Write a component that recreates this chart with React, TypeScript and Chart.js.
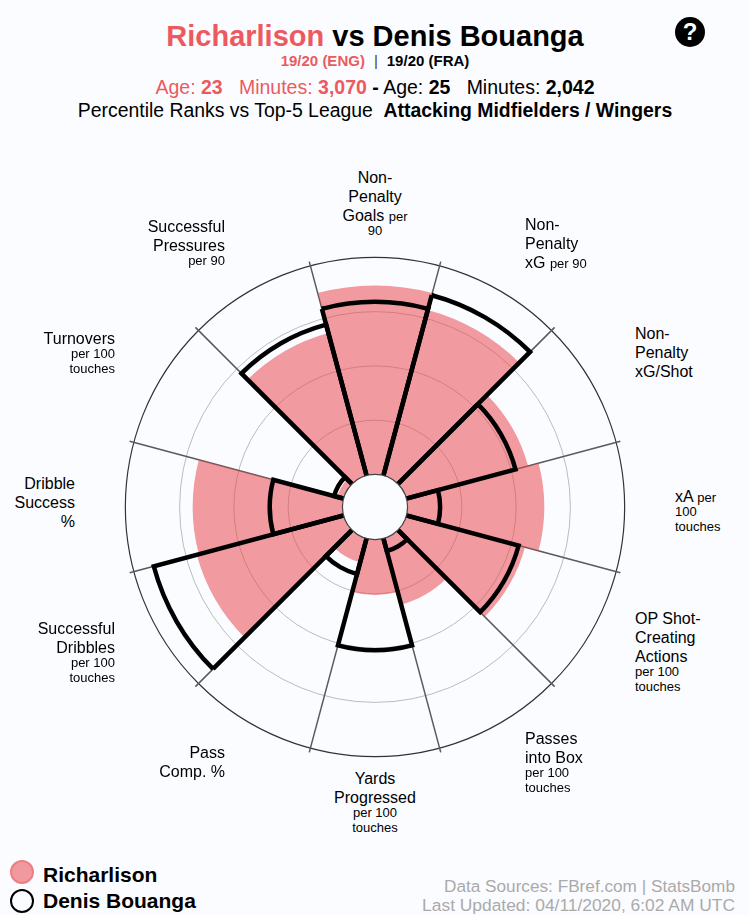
import React, { useEffect, useRef } from "react";
import { Chart, registerables } from "chart.js";

Chart.register(...registerables);

const categories = [
  "Non-Penalty Goals",
  "Non-Penalty xG",
  "Non-Penalty xG/Shot",
  "xA",
  "OP Shot-Creating Actions",
  "Passes into Box",
  "Yards Progressed",
  "Pass Comp. %",
  "Successful Dribbles",
  "Dribble Success %",
  "Turnovers",
  "Successful Pressures",
];

const richarlison = [87, 79, 58, 63, 56.5, 31.5, 25.5, 11.5, 70, 69, 3, 68];
const bouanga = [79.5, 86, 52, 15, 53.5, 6, 51, 17, 90.5, 33.5, 4.5, 72];

const ringValues = [25, 50, 75, 100];

// each line is [normal text, small text]
const labelLines: [string, string][][] = [
  [["Non-", ""], ["Penalty", ""], ["Goals ", "per"], ["", "90"]],
  [["Non-", ""], ["Penalty", ""], ["xG ", "per 90"]],
  [["Non-", ""], ["Penalty", ""], ["xG/Shot", ""]],
  [["xA ", "per"], ["", "100"], ["", "touches"]],
  [["OP Shot-", ""], ["Creating", ""], ["Actions", ""], ["", "per 100"], ["", "touches"]],
  [["Passes", ""], ["into Box", ""], ["", "per 100"], ["", "touches"]],
  [["Yards", ""], ["Progressed", ""], ["", "per 100"], ["", "touches"]],
  [["Pass", ""], ["Comp. %", ""]],
  [["Successful", ""], ["Dribbles", ""], ["", "per 100"], ["", "touches"]],
  [["Dribble", ""], ["Success", ""], ["%", ""]],
  [["Turnovers", ""], ["", "per 100"], ["", "touches"]],
  [["Successful", ""], ["Pressures", ""], ["", "per 90"]],
];

const labelSpots: { x: number; y: number; align: "left" | "right" | "center" }[] = [
  { x: 375, y: 168, align: "center" },
  { x: 525, y: 215, align: "left" },
  { x: 635, y: 324, align: "left" },
  { x: 675, y: 487, align: "left" },
  { x: 635, y: 609, align: "left" },
  { x: 525, y: 729, align: "left" },
  { x: 375, y: 769, align: "center" },
  { x: 225, y: 743, align: "right" },
  { x: 115, y: 619, align: "right" },
  { x: 75, y: 474, align: "right" },
  { x: 115, y: 329, align: "right" },
  { x: 225, y: 217, align: "right" },
];

const BG = "#fbfcff";
const RED = "#ec5a60";
const FONT = '"Liberation Sans", Arial, sans-serif';

// hole in the middle of the pizza, covers the wedge tips
const holePlugin = {
  id: "hole",
  afterDatasetsDraw(chart: any) {
    const r = chart.scales.r;
    const { ctx } = chart;
    ctx.save();
    ctx.beginPath();
    ctx.arc(r.xCenter, r.yCenter, r.getDistanceFromCenterForValue(0), 0, Math.PI * 2);
    ctx.fillStyle = BG;
    ctx.fill();
    ctx.lineWidth = 1.2;
    ctx.strokeStyle = "#444";
    ctx.stroke();
    ctx.restore();
  },
};

function Abs({ x, y, style, children }: any) {
  return (
    <div style={{ position: "absolute", left: x, top: y, whiteSpace: "nowrap", ...style }}>
      {children}
    </div>
  );
}

export default function App() {
  const canvasRef = useRef<HTMLCanvasElement | null>(null);

  useEffect(() => {
    document.body.style.margin = "0";
    document.body.style.background = BG;
    if (!canvasRef.current) return;
    const chart = new Chart(canvasRef.current, {
      type: "polarArea",
      data: {
        labels: categories,
        datasets: [
          {
            label: "Richarlison",
            data: richarlison,
            order: 2,
            backgroundColor: "rgba(233, 72, 80, 0.55)",
            borderWidth: 0,
          },
          {
            label: "Denis Bouanga",
            data: bouanga,
            order: 1,
            backgroundColor: "transparent",
            borderColor: "#000",
            borderWidth: 4.5,
            borderJoinStyle: "miter",
          },
        ],
      },
      options: {
        responsive: false,
        animation: false,
        layout: { padding: 6 },
        plugins: { legend: { display: false }, tooltip: { enabled: false } },
        scales: {
          r: {
            min: -15,
            max: 102,
            bounds: "data",
            startAngle: -15,
            ticks: { display: false },
            afterBuildTicks: (scale: any) => {
              scale.ticks = ringValues.map((value) => ({ value }));
            },
            grid: {
              circular: true,
              color: (c: any) => (c.tick.value === 100 ? "#333" : "#bbbbbb"),
              lineWidth: (c: any) => (c.tick.value === 100 ? 1.2 : 1),
            },
            angleLines: { display: true, color: "#5a5a5a", lineWidth: 1.5 },
            pointLabels: { display: false },
          },
        },
      },
      plugins: [holePlugin],
    } as any);
    return () => chart.destroy();
  }, []);

  return (
    <div
      style={{
        position: "relative",
        width: 750,
        height: 915,
        overflow: "hidden",
        background: BG,
        fontFamily: FONT,
        color: "#000",
      }}
    >
      <canvas
        ref={canvasRef}
        width={520}
        height={520}
        style={{ position: "absolute", left: 115, top: 247, width: 520, height: 520 }}
      />

      {/* header */}
      <div style={{ position: "absolute", left: 0, width: 750, top: 18, textAlign: "center", fontSize: 29, fontWeight: 700, lineHeight: "36px" }}>
        <span style={{ color: RED }}>Richarlison</span> vs Denis Bouanga
      </div>
      <div style={{ position: "absolute", left: 0, width: 750, top: 53, textAlign: "center", fontSize: 15, fontWeight: 700, lineHeight: "16px" }}>
        <span style={{ color: RED }}>19/20 (ENG)</span>
        <span style={{ fontWeight: 400, color: "#444", margin: "0 9px" }}>|</span>
        19/20 (FRA)
      </div>
      <div style={{ position: "absolute", left: 0, width: 750, top: 76, textAlign: "center", fontSize: 19.5, lineHeight: "22px" }}>
        <span style={{ color: RED }}>
          Age: <b>23</b>&nbsp;&nbsp; Minutes: <b>3,070</b>
        </span>{" "}
        <b>-</b> Age: <b>25</b>&nbsp;&nbsp; Minutes: <b>2,042</b>
      </div>
      <div style={{ position: "absolute", left: 0, width: 750, top: 99, textAlign: "center", fontSize: 19.4, lineHeight: "22px" }}>
        Percentile Ranks vs Top-5 League&nbsp; <b>Attacking Midfielders / Wingers</b>
      </div>

      {/* help icon */}
      <div
        style={{
          position: "absolute",
          left: 675,
          top: 17,
          width: 30,
          height: 30,
          borderRadius: "50%",
          background: "#000",
          color: BG,
          textAlign: "center",
          fontSize: 24,
          fontWeight: 700,
          lineHeight: "30px",
        }}
      >
        ?
      </div>

      {/* slice labels */}
      {labelLines.map((lines, i) => {
        const spot = labelSpots[i];
        const posStyle: any =
          spot.align === "left"
            ? { left: spot.x }
            : spot.align === "right"
              ? { right: 750 - spot.x }
              : { left: spot.x - 100, width: 200 };
        return (
          <div key={categories[i]} style={{ position: "absolute", top: spot.y, textAlign: spot.align, ...posStyle }}>
            {lines.map(([big, small], j) => (
              <div
                key={j}
                style={{
                  fontSize: 16,
                  lineHeight: big ? "19px" : "15px",
                  height: big ? 19 : 15,
                  marginTop: !big && j > 0 && lines[j - 1][0] ? -3 : 0,
                  whiteSpace: "pre",
                }}
              >
                {big}
                {small && <span style={{ fontSize: 13 }}>{small}</span>}
              </div>
            ))}
          </div>
        );
      })}

      {/* legend */}
      <div style={{ position: "absolute", left: 10, top: 860, width: 24, height: 24, boxSizing: "border-box", borderRadius: "50%", background: "#f0999e", border: "2px solid #ec7f84" }} />
      <div style={{ position: "absolute", left: 10, top: 889, width: 24, height: 24, boxSizing: "border-box", borderRadius: "50%", border: "2.5px solid #000" }} />
      <Abs x={43} y={863} style={{ fontSize: 21, fontWeight: 700, lineHeight: "24px" }}>Richarlison</Abs>
      <Abs x={43} y={889} style={{ fontSize: 21, fontWeight: 700, lineHeight: "24px" }}>Denis Bouanga</Abs>

      {/* footer */}
      <div style={{ position: "absolute", right: 15, top: 877, textAlign: "right", fontSize: 17.2, lineHeight: "19px", color: "#aaaaaa", whiteSpace: "nowrap" }}>
        Data Sources: FBref.com | StatsBomb
        <br />
        <span style={{ fontSize: 17.4 }}>Last Updated: 04/11/2020, 6:02 AM UTC</span>
      </div>
    </div>
  );
}
